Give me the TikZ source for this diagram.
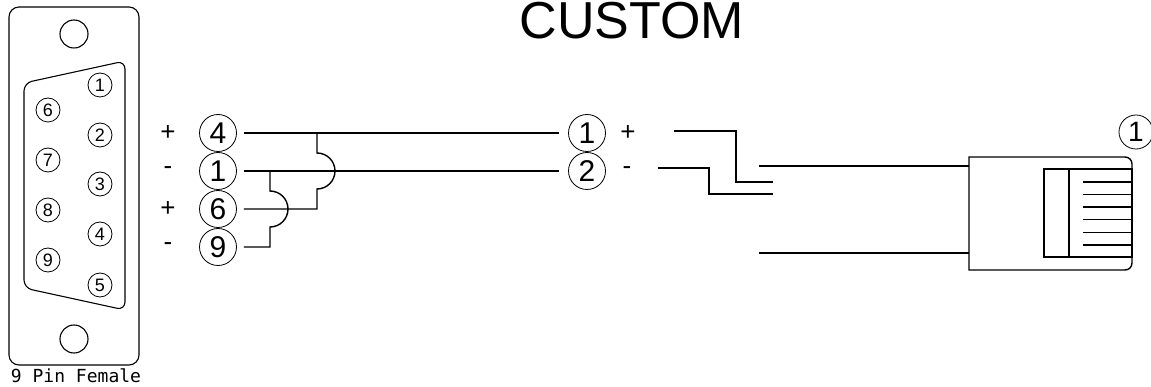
\documentclass[tikz,border=0pt]{standalone}
\usepackage{fontspec}
\setmainfont{Liberation Sans}
\newfontfamily\pinfont{DejaVu Sans Mono}
\usetikzlibrary{positioning}
\tikzset{
    pinnode/.style = {circle, draw=black, line width=0.8pt, inner sep=0pt, minimum size=24pt, font=\fontsize{18}{18}\selectfont},
    signode/.style = {circle, draw=black, line width=0.8pt, inner sep=0pt, minimum size=37pt, font=\fontsize{30}{30}\selectfont},
    signnode/.style = {inner sep=0pt, font=\fontsize{26}{26}\selectfont},
    wire/.style = {-, line width=1.4pt, black},
    shell/.style = {-, line width=1.1pt, black}
}

\begin{document}
\begin{tikzpicture}[x=1pt,y=-1pt]
\useasboundingbox (0,0) rectangle (1151,387);
%
\node[font=\fontsize{52}{52}\selectfont, inner sep=0pt] at (632,21) (title) {CUSTOM};
%
% 9 pin female connector
\draw[shell, rounded corners=10pt] (9,7) rectangle (139,365);
\draw[shell] (74,34) circle[radius=14pt];
\draw[shell] (74,339) circle[radius=14pt];
\draw[shell, rounded corners=8pt] (24,288) -- (24,83) -- (125,61) -- (125,310) -- cycle;
\foreach \n/\y in {1/85,2/135,3/184,4/234,5/285}
    \node[pinnode] at (100,\y) (p\n) {\n};
\foreach \n/\y in {6/110,7/160,8/210,9/260}
    \node[pinnode] at (48,\y) (p\n) {\n};
\node[font=\pinfont\fontsize{18}{18}\selectfont, inner sep=0pt] at (76,376) (plabel) {9 Pin Female};
%
% signals
\node[signode] at (218,133) (s4) {4};
\node[signode] at (218,171) (s1) {1};
\node[signode] at (218,209) (s6) {6};
\node[signode] at (218,247) (s9) {9};
\node[signnode] at (168,133) (g4) {+};
\node[signnode] at (168,171) (g1) {-};
\node[signnode] at (168,209) (g6) {+};
\node[signnode] at (168,247) (g9) {-};
%
\node[signode] at (587,133) (t1) {1};
\node[signode] at (587,171) (t2) {2};
\node[signnode] at (628,133) (h1) {+};
\node[signnode] at (627,171) (h2) {-};
%
\draw[wire, shorten <=7pt, shorten >=9pt] (s4) -- (t1);
\draw[wire, shorten <=7pt, shorten >=9pt] (s1) -- (t2);
%
\coordinate (j4) at (317,133);
\coordinate (j6) at (317,209);
\coordinate (j1) at (270,171);
\coordinate (j9) at (270,247);
\draw[wire] (j4) -- ++(0,20) arc[start angle=90, end angle=-90, radius=18pt] -- (j6) -- ([xshift=7pt]s6.east);
\draw[wire] (j1) -- ++(0,20) arc[start angle=90, end angle=-90, radius=18pt] -- (j9) -- ([xshift=7pt]s9.east);
%
% cable
\coordinate (a1) at (674,131);
\coordinate (a2) at (773,182);
\coordinate (b1) at (658,168);
\coordinate (b2) at (773,194);
\coordinate (c1) at (759,166);
\coordinate (d1) at (759,253);
\draw[wire] (a1) -- (736,131) -- (736,182) -- (a2);
\draw[wire] (b1) -- (709,168) -- (709,194) -- (b2);
%
% modular plug
\coordinate (rj) at (969,157);
\draw[wire] (c1) -- (969,166);
\draw[wire] (d1) -- (969,253);
\draw[wire] (rj) -- (1125,157) arc[start angle=90, end angle=0, radius=7pt] -- (1132,263) arc[start angle=0, end angle=-90, radius=7pt] -- (969,270) -- cycle;
\draw[wire] (1044,169) rectangle (1132,257);
\draw[wire] (1069,169) -- (1069,257);
\foreach \i in {0,...,5}
    \draw[wire] (1083,182+12.6*\i) -- (1132,182+12.6*\i);
\node[signode, minimum size=34pt, font=\fontsize{28}{28}\selectfont] at (1136,132) (rj1) {1};
%
\end{tikzpicture}
\end{document}
